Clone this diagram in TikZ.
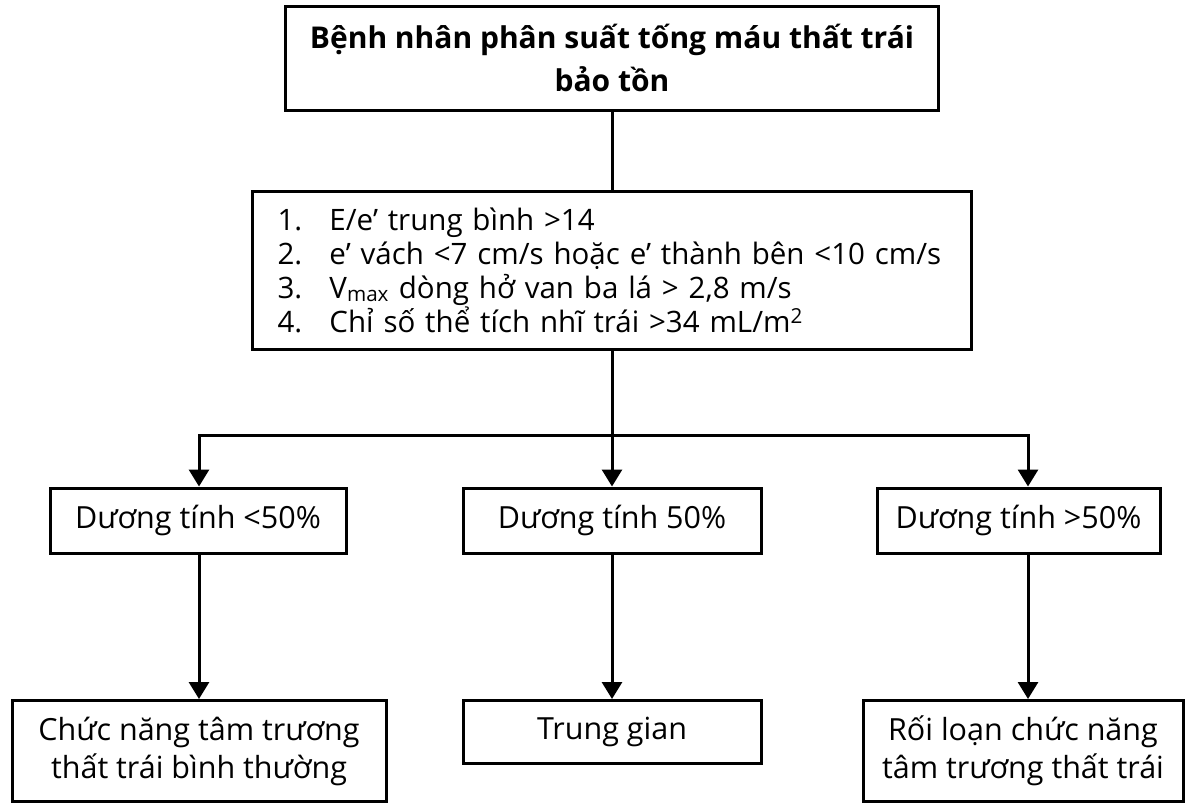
\documentclass[tikz,border=0pt]{standalone}
\usepackage{fontspec}
\setmainfont{Open Sans}
\usetikzlibrary{arrows.meta}
\newcommand{\critem}[2]{\mbox{\makebox[52pt][l]{#1}#2}}
\begin{document}
\begin{tikzpicture}[x=1pt,y=-1pt,
  box/.style={draw=black, line width=3pt, inner sep=0pt, align=center,
              font=\fontsize{30.5}{38}\selectfont},
  link/.style={draw=black, line width=3pt},
  arr/.style={link, -{Triangle[width=20pt,length=17pt]}},
]
\useasboundingbox (0,0) rectangle (1188,803);

% title
\node[box, minimum width=653pt, minimum height=104pt,
      font=\bfseries\fontsize{30}{43}\selectfont] (top) at (612,58)
  {Bệnh nhân phân suất tống máu thất trái\\bảo tồn};

% criteria list
\node[box, minimum width=719pt, minimum height=158pt, align=left,
      text width=669pt, font=\fontsize{29.5}{34}\selectfont] (crit) at (612,270)
  {\critem{1.}{E/e’ trung bình >14}\\
   \critem{2.}{e’ vách <7 cm/s hoặc e’ thành bên <10 cm/s}\\
   \critem{3.}{V\textsubscript{max} dòng hở van ba lá > 2,8 m/s}\\
   \critem{4.}{Chỉ số thể tích nhĩ trái >34 mL/m\textsuperscript{2}}};

% share of positive criteria
\node[box, minimum width=296pt, minimum height=65pt] (neg) at (198,520.5) {Dương tính <50\%};
\node[box, minimum width=298pt, minimum height=65pt] (half) at (612,520.5) {Dương tính 50\%};
\node[box, minimum width=283pt, minimum height=65pt] (pos) at (1018.5,520.5) {Dương tính >50\%};

% conclusions
\node[box, minimum width=374pt, minimum height=101pt] (normal) at (199,751)
  {Chức năng tâm trương\\thất trái bình thường};
\node[box, minimum width=298pt, minimum height=63pt] (inter) at (612,732) {Trung gian};
\node[box, minimum width=320pt, minimum height=101pt] (dysf) at (1023,751)
  {Rối loạn chức năng\\tâm trương thất trái};

% connectors
\coordinate (split) at (612,435);
\coordinate (jl) at (199,435);
\coordinate (jr) at (1028,435);
\draw[link] (top.south) -- (crit.north);
\draw[link] (crit.south) -- (split);
\draw[arr] (split) -| (neg.north -| jl);
\draw[arr] (split) -| (pos.north -| jr);
\draw[arr] (split) -- (half.north);
\draw[arr] (neg.south -| jl) -- (normal.north -| jl);
\draw[arr] (half.south) -- (inter.north);
\draw[arr] (pos.south -| jr) -- (dysf.north -| jr);
\end{tikzpicture}
\end{document}
